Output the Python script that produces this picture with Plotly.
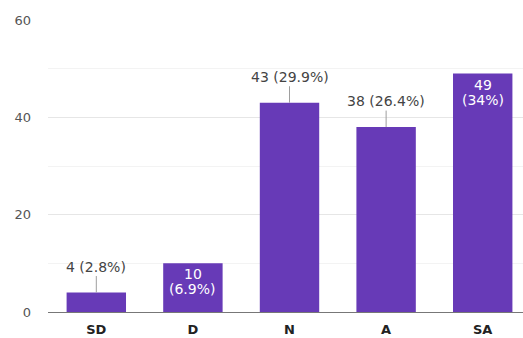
import plotly.graph_objects as go

# Survey responses per answer category
categories = ["SD", "D", "N", "A", "SA"]
counts = [4, 10, 43, 38, 49]
# Bars whose value label sits inside the bar (white text)
inside_label = [False, True, False, False, True]
y_ticks = [0, 20, 40, 60]

BAR_COLOR = "#673ab7"
LABEL_FONT = "DejaVu Sans"
total = sum(counts)


def pct_text(v):
    p = round(100 * v / total, 1)
    return f"{p:g}%"


fig = go.Figure()
fig.add_trace(go.Bar(
    x=categories,
    y=counts,
    marker=dict(color=BAR_COLOR, line=dict(width=0)),
    width=0.615,
    hoverinfo="skip",
))

annotations = []
for cat, v, inside in zip(categories, counts, inside_label):
    if inside:
        # two stacked lines placed just below the bar top
        for line, shift in ((f"{v}", -11), (f"({pct_text(v)})", -26)):
            annotations.append(dict(
                x=cat, y=v, xref="x", yref="y",
                text=line, showarrow=False,
                yanchor="middle", yshift=shift,
                font=dict(family=LABEL_FONT, size=14, color="#ffffff"),
            ))
    else:
        annotations.append(dict(
            x=cat, y=v, xref="x", yref="y",
            text=f"{v} ({pct_text(v)})",
            showarrow=True, arrowhead=0, arrowwidth=1,
            arrowcolor="#9e9e9e", ax=0, ay=-26,
            standoff=0, startstandoff=0,
            font=dict(family=LABEL_FONT, size=14, color="#444444"),
        ))

fig.update_layout(
    width=523, height=338,
    margin=dict(l=48, r=0, t=20, b=26),
    paper_bgcolor="white", plot_bgcolor="white",
    showlegend=False,
    annotations=annotations,
    xaxis=dict(
        range=[-0.5, 4.417],
        showgrid=False,
        showline=True, linecolor="#777777", linewidth=1,
        ticks="", ticklabelstandoff=5,
        tickfont=dict(family=LABEL_FONT, size=13, color="#222222", weight="bold"),
        automargin=False,
        fixedrange=True,
    ),
    yaxis=dict(
        range=[0, 60],
        tickvals=y_ticks,
        showgrid=True, gridcolor="#e6e6e6", gridwidth=1,
        minor=dict(dtick=10, showgrid=True, gridcolor="#f3f3f3", gridwidth=1),
        zeroline=False,
        showline=False,
        ticks="", ticklabelstandoff=16,
        tickfont=dict(family=LABEL_FONT, size=13, color="#555555"),
        automargin=False,
        fixedrange=True,
    ),
)

fig.write_html("out.html")
